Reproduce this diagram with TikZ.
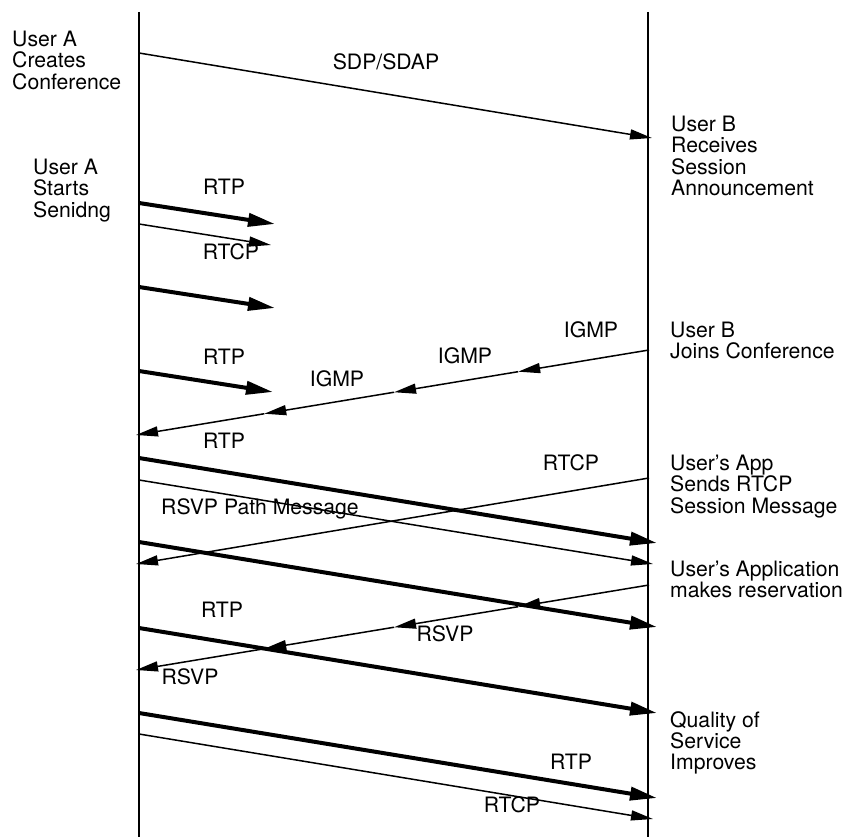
\documentclass[tikz,border=0pt]{standalone}
\usepackage{fontspec}
\setmainfont{TeX Gyre Heros}
\usetikzlibrary{arrows.meta,calc}
\begin{document}
\begin{tikzpicture}[x=1pt,y=-1pt,
  lifeline/.style={line width=2pt},
  msg/.style={line width=1.5pt,-{Triangle[length=22pt,width=10pt]}},
  bigmsg/.style={line width=4pt,-{Triangle[length=27pt,width=13pt]}},
  lbl/.style={inner sep=0pt,anchor=base,font=\fontsize{21.2}{21.3}\selectfont},
  note/.style={inner sep=0pt,anchor=north west,align=left,font=\fontsize{21.2}{21.3}\selectfont}]
\useasboundingbox (0,0) rectangle (849,837);

% lifelines
\coordinate (aTop) at (139,12);  \coordinate (aBot) at (139,837);
\coordinate (bTop) at (648,12);  \coordinate (bBot) at (648,837);
\draw[lifeline] (aTop) -- (aBot);
\draw[lifeline] (bTop) -- (bBot);

% side notes
\node[note] (nA1) at (12,31)   {User A\\Creates\\Conference};
\node[note] (nA2) at (33,159)  {User A\\Starts\\Senidng};
\node[note] (nB1) at (671,116) {User B\\Receives\\Session\\Announcement};
\node[note] (nB2) at (670,322) {User B\\Joins Conference};
\node[note] (nB3) at (670,455) {User's App\\Sends RTCP\\Session Message};
\node[note] (nB4) at (670,561) {User's Application\\makes reservation};
\node[note] (nB5) at (670,711) {Quality of\\Service\\Improves};

% session announcement
\coordinate (s0) at (139,53);  \coordinate (s1) at (652,138);
\draw[msg] (s0) -- (s1);
\node[lbl] (lSdp) at (386,70) {SDP/SDAP};

% first packets from A
\coordinate (r1a) at (139,203); \coordinate (r1b) at (275,224);
\coordinate (c1a) at (139,224); \coordinate (c1b) at (271,245);
\coordinate (r2a) at (139,287); \coordinate (r2b) at (275,308);
\coordinate (r3a) at (139,371); \coordinate (r3b) at (273,392);
\draw[bigmsg] (r1a) -- (r1b);
\draw[msg] (c1a) -- (c1b);
\draw[bigmsg] (r2a) -- (r2b);
\draw[bigmsg] (r3a) -- (r3b);
\node[lbl] (lRtp1) at (224,195) {RTP};
\node[lbl] (lRtcp1) at (231,260) {RTCP};
\node[lbl] (lRtp2) at (224,364) {RTP};

% IGMP join, hop by hop
\coordinate (g0) at (649,350); \coordinate (g4) at (136,435);
\coordinate (g1) at ($(g0)!0.255!(g4)$);
\coordinate (g2) at ($(g0)!0.497!(g4)$);
\coordinate (g3) at ($(g0)!0.750!(g4)$);
\draw[msg] (g0) -- (g1);
\draw[msg] (g1) -- (g2);
\draw[msg] (g2) -- (g3);
\draw[msg] (g3) -- (g4);
\node[lbl] (lIgmp1) at (591,337) {IGMP};
\node[lbl] (lIgmp2) at (465,363) {IGMP};
\node[lbl] (lIgmp3) at (337,386) {IGMP};

% full-length streams
\coordinate (r4a) at (139,458); \coordinate (r4b) at (657,543);
\coordinate (pa)  at (139,480); \coordinate (pb)  at (653,564);
\coordinate (c2a) at (649,478); \coordinate (c2b) at (136,564);
\coordinate (r5a) at (139,542); \coordinate (r5b) at (657,627);
\draw[bigmsg] (r4a) -- (r4b);
\draw[msg] (pa) -- (pb);
\draw[msg] (c2a) -- (c2b);
\draw[bigmsg] (r5a) -- (r5b);
\node[lbl] (lRtp3) at (224,448) {RTP};
\node[lbl] (lRtcp2) at (571,470) {RTCP};
\node[lbl] (lPath) at (260,514) {RSVP Path Message};

% RSVP reservation, hop by hop
\coordinate (v0) at (649,585); \coordinate (v4) at (136,670);
\coordinate (v1) at ($(v0)!0.255!(v4)$);
\coordinate (v2) at ($(v0)!0.497!(v4)$);
\coordinate (v3) at ($(v0)!0.750!(v4)$);
\draw[msg] (v0) -- (v1);
\draw[msg] (v1) -- (v2);
\draw[msg] (v2) -- (v3);
\draw[msg] (v3) -- (v4);
\node[lbl] (lRsvp1) at (445,641) {RSVP};
\node[lbl] (lRsvp2) at (190,684) {RSVP};

% streams after reservation
\coordinate (r6a) at (139,628); \coordinate (r6b) at (657,713);
\coordinate (r7a) at (139,713); \coordinate (r7b) at (657,798);
\coordinate (c3a) at (139,734); \coordinate (c3b) at (653,819);
\draw[bigmsg] (r6a) -- (r6b);
\draw[bigmsg] (r7a) -- (r7b);
\draw[msg] (c3a) -- (c3b);
\node[lbl] (lRtp4) at (222,617) {RTP};
\node[lbl] (lRtp5) at (571,769) {RTP};
\node[lbl] (lRtcp3) at (512,812) {RTCP};
\end{tikzpicture}
\end{document}
